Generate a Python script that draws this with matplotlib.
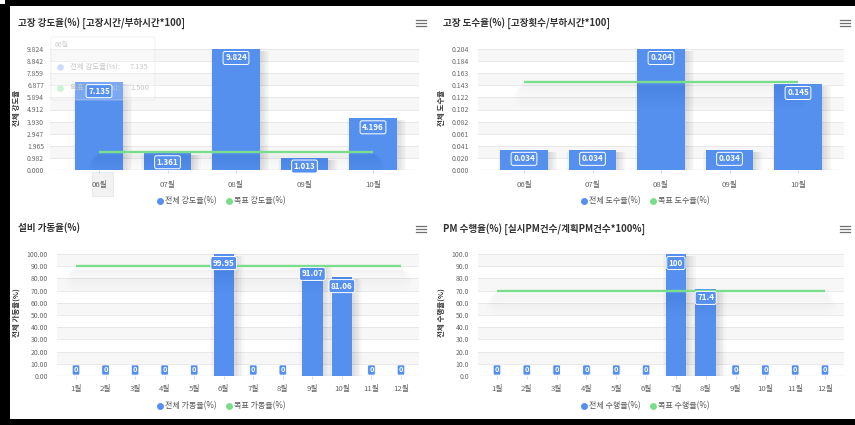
import matplotlib
matplotlib.use('Agg')
import matplotlib.pyplot as plt
import matplotlib.patheffects as pe
from matplotlib.lines import Line2D
from matplotlib.patches import Rectangle, FancyBboxPatch
import numpy as np

plt.rcParams['font.family'] = ['Noto Sans CJK KR', 'DejaVu Sans']

W, H = 855, 425

# ---------------- data ----------------
months5 = ['06월', '07월', '08월', '09월', '10월']
months12 = ['1월', '2월', '3월', '4월', '5월', '6월', '7월', '8월', '9월', '10월', '11월', '12월']

severity = [7.135, 1.361, 9.824, 1.013, 4.196]
severity_target = [1.5, 1.5, 1.5, 1.5, 1.5]

frequency = [0.034, 0.034, 0.204, 0.034, 0.145]
frequency_target = [0.148, 0.148, 0.148, 0.148, 0.148]

availability = [0, 0, 0, 0, 0, 99.95, 0, 0, 91.07, 81.06, 0, 0]
availability_target = [90] * 12

pm_rate = [0, 0, 0, 0, 0, 0, 100, 71.4, 0, 0, 0, 0]
pm_target = [70] * 12

BLUE = '#5590EE'
GREEN = '#7ADD8C'
GRID = '#e6e6e6'
BAND = '#f7f7f7'

fig = plt.figure(figsize=(W / 100, H / 100), dpi=100)
fig.patch.set_facecolor('white')


def fx(x):
    return x / W


def fy(y):
    return 1 - y / H


charts = [
    dict(title='고장 강도율(%) [고장시간/부하시간*100]', tx=18, ty=23,
         cats=months5, vals=severity, target=severity_target,
         ymax=9.824, yfmt='{:.3f}', lfmt=lambda v: f'{v:.3f}' if v else '0',
         box=(50, 49, 419, 170), first=99, last=373, ypad=6, xpad=8.5,
         ytitle='전체 강도율', ytx=16, yty=108,
         legend=('전체 강도율(%)', '목표 강도율(%)'), lx=160, ly=201, menu=(421, 23)),
    dict(title='고장 도수율(%) [고장횟수/부하시간*100]', tx=443, ty=23,
         cats=months5, vals=frequency, target=frequency_target,
         ymax=0.204, yfmt='{:.3f}', lfmt=lambda v: f'{v:.3f}' if v else '0',
         box=(478, 49, 844, 170), first=524, last=798, ypad=9, xpad=8.5,
         ytitle='전체 도수율', ytx=441, yty=108,
         legend=('전체 도수율(%)', '목표 도수율(%)'), lx=584, ly=201, menu=(845, 23)),
    dict(title='설비 가동율(%)', tx=18, ty=228,
         cats=months12, vals=availability, target=availability_target,
         ymax=100, yfmt='{:.2f}', lfmt=lambda v: f'{v:g}',
         box=(57, 254, 419, 376), first=76, last=401, ypad=9, xpad=7,
         ytitle='전체 가동율(%)', ytx=16, yty=313,
         legend=('전체 가동율(%)', '목표 가동율(%)'), lx=160, ly=406, menu=(421, 229)),
    dict(title='PM 수행율(%) [실시PM건수/계획PM건수*100%]', tx=443, ty=229,
         cats=months12, vals=pm_rate, target=pm_target,
         ymax=100, yfmt='{:.1f}', lfmt=lambda v: f'{v:g}',
         box=(478, 254, 844, 376), first=497, last=825, ypad=9, xpad=7,
         ytitle='전체 수행율(%)', ytx=441, yty=313,
         legend=('전체 수행율(%)', '목표 수행율(%)'), lx=584, ly=406, menu=(845, 229)),
]

bar_shadow = [pe.SimplePatchShadow(offset=(dx, -1.5), shadow_rgbFace='k', alpha=0.02)
              for dx in (-2, -1, 0, 1, 2, 3, 4, 5, 6, 7)] + [pe.Normal()]
line_shadow = [pe.SimpleLineShadow(offset=(0, -(2 + 0.8 * k)), shadow_color='k',
                                   alpha=0.0055, linewidth=2 + 1.3 * k, capstyle='round')
               for k in range(12)] + [pe.Normal()]

axes = []
for c in charts:
    x0, y0, x1, y1 = c['box']
    n = len(c['cats'])
    ax = fig.add_axes([fx(x0), fy(y1), (x1 - x0) / W, (y1 - y0) / H])
    axes.append(ax)
    step = (c['last'] - c['first']) / (n - 1)
    ax.set_xlim(-(c['first'] - x0) / step, (n - 1) + (x1 - c['last']) / step)
    ax.set_ylim(0, c['ymax'])
    ticks = np.linspace(0, c['ymax'], 11)
    for i in range(10):
        if i % 2 == 1:
            ax.axhspan(ticks[i], ticks[i + 1], color=BAND, zorder=0, lw=0)
    for t in ticks[1:]:
        ax.axhline(t, color=GRID, lw=0.6, zorder=0.5)
    ax.axhline(0, color='#d5dbe5', lw=0.9, zorder=0.6)
    for s in ax.spines.values():
        s.set_visible(False)
    ax.set_yticks(ticks)
    ax.set_yticklabels([c['yfmt'].format(t) for t in ticks])
    ax.tick_params(axis='y', length=0, pad=c['ypad'] * 0.72, labelsize=4.9, labelcolor='#666666')
    ax.set_xticks(range(n))
    ax.set_xticklabels(c['cats'])
    ax.tick_params(axis='x', length=2.3, width=0.6, color='#ccd6eb', direction='out',
                   pad=c['xpad'] * 0.72 - 0.5, labelsize=5.6, labelcolor='#666666')

    xs = np.arange(n)
    ax.bar(xs, c['vals'], width=0.69, color=BLUE, zorder=2, path_effects=bar_shadow)
    ax.plot(xs, c['target'], color=GREEN, lw=1.7, zorder=4, solid_capstyle='butt',
            path_effects=line_shadow)

    for i, v in enumerate(c['vals']):
        if v > 0:
            ax.annotate(c['lfmt'](v), (i, v), xytext=(0, -4.5), textcoords='offset pixels',
                        ha='center', va='top', fontsize=5.8, fontweight='bold', color='white',
                        zorder=6,
                        bbox=dict(boxstyle='round,pad=0.25,rounding_size=0.25', fc=BLUE,
                                  ec='white', lw=0.7))
        else:
            ax.annotate(c['lfmt'](v), (i, 0), xytext=(0, 2.5), textcoords='offset pixels',
                        ha='center', va='bottom', fontsize=5.3, fontweight='bold', color='white',
                        zorder=6,
                        bbox=dict(boxstyle='round,pad=0.22,rounding_size=0.2', fc=BLUE,
                                  ec='white', lw=0.6))

    # title
    fig.text(fx(c['tx']), fy(c['ty']), c['title'], fontsize=6.9, fontweight='bold',
             color='#333333', ha='left', va='center')
    # y title
    fig.text(fx(c['ytx']), fy(c['yty']), c['ytitle'], fontsize=5.4, fontweight='bold',
             color='#333333', rotation=90, ha='center', va='center')
    # legend
    lx, ly = c['lx'], c['ly']
    for j, (col, lab) in enumerate(zip((BLUE, GREEN), c['legend'])):
        mx = lx + j * 69
        fig.add_artist(Line2D([fx(mx)], [fy(ly)], marker='o', markersize=5, color=col,
                              markeredgewidth=0, transform=fig.transFigure))
        fig.text(fx(mx + 5), fy(ly), lab, fontsize=5.8, color='#555555', ha='left', va='center')
    # menu icon
    mx, my = c['menu']
    for d in (-3, 0, 3):
        fig.add_artist(Line2D([fx(mx - 5), fx(mx + 5)], [fy(my + d), fy(my + d)],
                              color='#707070', lw=0.9, transform=fig.transFigure))

# ---- hover state on the first chart ----
ax1 = axes[0]
ax1.add_patch(Rectangle((fx(92), fy(196)), (113 - 92) / W, (196 - 172) / H,
                        transform=fig.transFigure, fc='#f2f2f2', ec='#e4e4e4', lw=0.5,
                        zorder=0.1, clip_on=False))
ax1.add_patch(FancyBboxPatch((fx(51), fy(100)), (155 - 51) / W, (100 - 37) / H,
                             boxstyle='round,pad=0,rounding_size=0.004',
                             transform=fig.transFigure, fc=(1, 1, 1, 0.22),
                             ec=(0.88, 0.88, 0.88, 0.5), lw=0.6, zorder=3, clip_on=False))
ax1.text(fx(55), fy(45), months5[0], transform=fig.transFigure, fontsize=5.0,
         color='#cfcfcf', ha='left', va='center', zorder=3.5, clip_on=False)
tt_rows = [('#cddcf8', '전체 강도율(%):', f'{severity[0]:.3f}', 67),
           ('#cdf3d5', '목표 강도율(%):', f'{severity_target[0]:.3f}', 88)]
for col, lab, val, yy in tt_rows:
    ax1.add_line(Line2D([fx(60)], [fy(yy)], marker='o', markersize=4.8, color=col,
                        markeredgewidth=0, transform=fig.transFigure, zorder=3.5, clip_on=False))
    ax1.text(fx(70), fy(yy), lab, transform=fig.transFigure, fontsize=5.4,
             color='#c8c8c8', ha='left', va='center', zorder=3.5, clip_on=False)
    ax1.text(fx(130), fy(yy), val, transform=fig.transFigure, fontsize=5.4,
             color='#c8c8c8', ha='left', va='center', zorder=3.5, clip_on=False)

# ---- black frame ----
for (a, b, cw, ch) in ((5, 0, 850, 6), (0, 4, 10, 421), (0, 419, 855, 6)):
    fig.patches.append(Rectangle((fx(a), fy(b + ch)), cw / W, ch / H,
                                 transform=fig.transFigure, fc='black', ec='none', zorder=10))

fig.savefig('out.png', dpi=100)
